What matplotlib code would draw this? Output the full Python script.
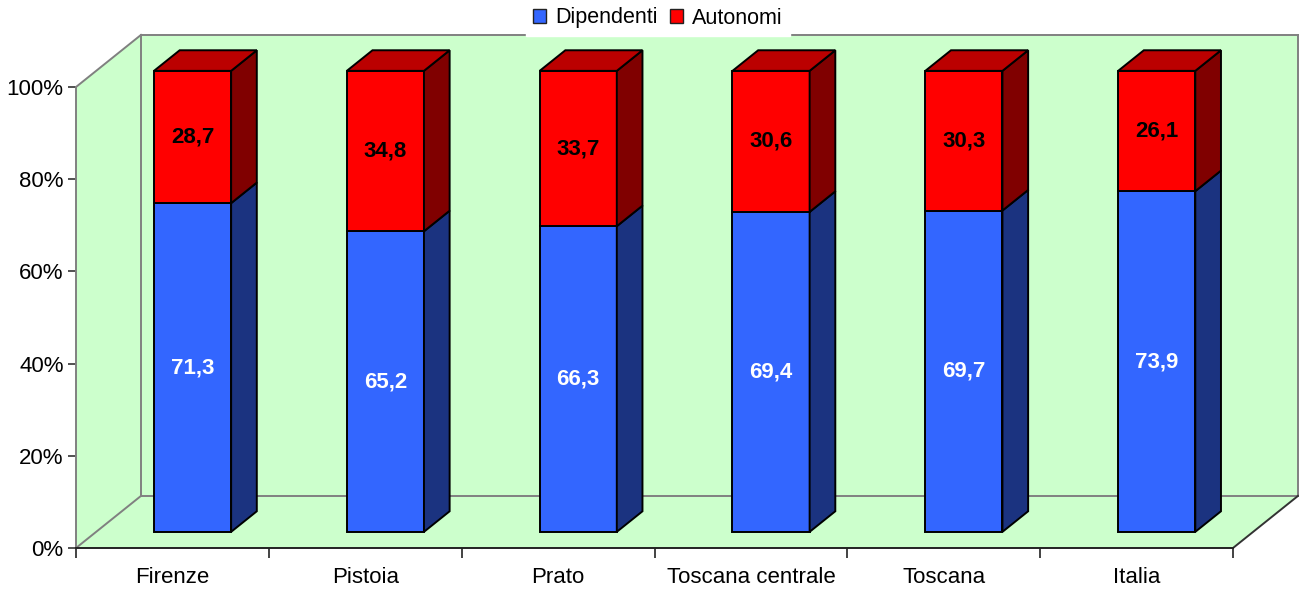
import matplotlib.pyplot as plt
from matplotlib.patches import Polygon, Patch

plt.rcParams['font.family'] = ['Liberation Sans', 'DejaVu Sans']

categories = ['Firenze', 'Pistoia', 'Prato', 'Toscana centrale', 'Toscana', 'Italia']
dipendenti = [71.3, 65.2, 66.3, 69.4, 69.7, 73.9]
autonomi = [28.7, 34.8, 33.7, 30.6, 30.3, 26.1]
y_ticks = [0, 20, 40, 60, 80, 100]

# depth of the 3-D box (x in category units, y in percent)
DEPTH_X, DEPTH_Y = 0.337, 11.3
BAR_FRONT, BAR_BACK = 0.31, 0.705   # bar position inside the depth
BAR_WIDTH = 0.40

WALL = '#CCFFCC'
GRID = '#808080'
BLUE = ('#3366FF', '#1B3380', '#2A52CC')   # front, side, top
RED = ('#FF0000', '#800000', '#BB0000')


def depth(d):
    return d * DEPTH_X, d * DEPTH_Y


def draw_block(ax, xc, y0, y1, colors, top=True):
    fx, fy = depth(BAR_FRONT)
    bx, by = depth(BAR_BACK - BAR_FRONT)
    x0 = xc - BAR_WIDTH / 2 + fx
    x1 = x0 + BAR_WIDTH
    yb, yt = y0 + fy, y1 + fy
    faces = [
        ([(x0, yb), (x1, yb), (x1, yt), (x0, yt)], colors[0]),
        ([(x1, yb), (x1 + bx, yb + by), (x1 + bx, yt + by), (x1, yt)], colors[1]),
    ]
    if top:
        faces.append(([(x0, yt), (x1, yt), (x1 + bx, yt + by), (x0 + bx, yt + by)], colors[2]))
    for pts, c in faces:
        ax.add_patch(Polygon(pts, closed=True, facecolor=c, edgecolor='black',
                             linewidth=1.4, clip_on=False, zorder=3))
    return (x0 + x1) / 2, (yb + yt) / 2


fig = plt.figure(figsize=(12.99, 5.92), dpi=100)
ax = fig.add_axes([76 / 1299, 44 / 592, (1233 - 76) / 1299, (548 - 87) / 592])
ax.set_xlim(0, len(categories))
ax.set_ylim(0, 100)
ax.patch.set_visible(False)

n = len(categories)
wx, wy = depth(1)
# walls and floor
walls = [
    [(wx, wy), (n + wx, wy), (n + wx, 100 + wy), (wx, 100 + wy)],
    [(0, 0), (wx, wy), (wx, 100 + wy), (0, 100)],
    [(0, 0), (n, 0), (n + wx, wy), (wx, wy)],
]
for pts in walls:
    ax.add_patch(Polygon(pts, closed=True, facecolor=WALL, edgecolor='none',
                         clip_on=False, zorder=0.5))
for xs, ys, c in [
    ([wx, wx], [wy, 100 + wy], GRID),
    ([wx, n + wx], [wy, wy], GRID),
    ([wx, n + wx], [100 + wy, 100 + wy], GRID),
    ([n + wx, n + wx], [wy, 100 + wy], GRID),
    ([0, wx], [0, wy], GRID),
    ([0, wx], [100, 100 + wy], GRID),
    ([n, n + wx], [0, wy], '#333333'),
]:
    ax.plot(xs, ys, color=c, linewidth=1.4, clip_on=False, zorder=0.8)

for i in range(n):
    xc = i + 0.5
    cx, cy = draw_block(ax, xc, 0, dipendenti[i], BLUE, top=False)
    ax.text(cx, cy, f'{dipendenti[i]:.1f}'.replace('.', ','), ha='center', va='center',
            color='white', fontsize=16, fontweight='bold', zorder=4)
    cx, cy = draw_block(ax, xc, dipendenti[i], dipendenti[i] + autonomi[i], RED)
    ax.text(cx, cy, f'{autonomi[i]:.1f}'.replace('.', ','), ha='center', va='center',
            color='black', fontsize=16, fontweight='bold', zorder=4)

for side in ['top', 'right']:
    ax.spines[side].set_visible(False)
ax.spines['left'].set_color(GRID)
ax.spines['left'].set_linewidth(1.4)
ax.spines['bottom'].set_color('#222222')
ax.spines['bottom'].set_linewidth(1.4)

ax.set_yticks(y_ticks)
ax.set_yticklabels([f'{v}%' for v in y_ticks], fontsize=16)
ax.tick_params(axis='y', length=6, width=1.2, color='#333333', pad=3)

ax.set_xticks([i + 0.5 for i in range(n)])
ax.set_xticklabels(categories, fontsize=16)
ax.set_xticks(range(n + 1), minor=True)
ax.tick_params(axis='x', which='major', length=0, pad=14)
ax.tick_params(axis='x', which='minor', length=7, width=1.2, color='#222222')

handles = [Patch(facecolor=BLUE[0], edgecolor='#222222', label='Dipendenti'),
           Patch(facecolor=RED[0], edgecolor='#222222', label='Autonomi')]
leg = fig.legend(handles=handles, loc='center', bbox_to_anchor=(658 / 1299, 1 - 18 / 592),
                 ncol=2, fontsize=15.5, frameon=True, fancybox=False, facecolor='white',
                 edgecolor='white', framealpha=1, handlelength=0.6, handleheight=0.6,
                 handletextpad=0.4, columnspacing=0.6, borderpad=0.35)

fig.savefig('out.png', dpi=100)
